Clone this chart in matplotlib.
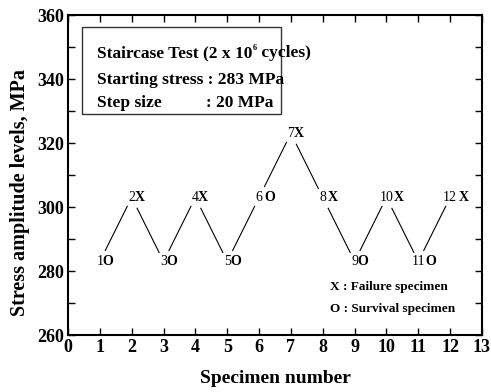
import matplotlib
matplotlib.use('Agg')
import matplotlib.pyplot as plt
from matplotlib.patches import Rectangle
from matplotlib.ticker import MultipleLocator

plt.rcParams['font.family'] = ['Liberation Serif', 'DejaVu Serif']

# data
specimen = [1, 2, 3, 4, 5, 6, 7, 8, 9, 10, 11, 12]
stress = [283, 303, 283, 303, 283, 303, 323, 303, 283, 303, 283, 303]
outcome = ['O', 'X', 'O', 'X', 'O', 'O', 'X', 'X', 'O', 'X', 'O', 'X']

fig = plt.figure(figsize=(4.91, 3.92), dpi=100)
ax = fig.add_axes([68 / 491, 57 / 392, 414 / 491, 320 / 392])
ax.set_xlim(0, 13)
ax.set_ylim(260, 360)

# shortened connecting lines between labels
for i in range(len(specimen) - 1):
    x0, y0 = specimen[i], stress[i]
    x1, y1 = specimen[i + 1], stress[i + 1]
    a, b = 0.17, 0.86
    ax.plot([x0 + a * (x1 - x0), x0 + b * (x1 - x0)],
            [y0 + a * (y1 - y0), y0 + b * (y1 - y0)],
            color='black', lw=0.8)

# point labels: number centred on the point, outcome letter to its right
for x, y, o in zip(specimen, stress, outcome):
    ax.text(x, y, str(x), ha='center', va='center', fontsize=10)
    off = 2.0 if x < 10 else 5.0
    if x in (6, 8, 12):
        off += 1.5
    ax.annotate(o, (x, y), xytext=(off, 0), textcoords='offset points',
                ha='left', va='center', fontsize=10, fontweight='bold')

# info box
ax.add_patch(Rectangle((0.44, 329.1), 6.26, 27.1, fill=False,
                       edgecolor='#333333', lw=1.0))
bfs = 12.5
t1 = ax.text(0.9, 348.1, 'Staircase Test (2 x 10', fontsize=bfs,
             fontweight='bold', va='center')
ax.text(0.9, 339.7, 'Starting stress : 283 MPa', fontsize=bfs,
        fontweight='bold', va='center')
ax.text(0.9, 332.5, 'Step size', fontsize=bfs, fontweight='bold', va='center')
ax.text(4.33, 332.5, ': 20 MPa', fontsize=bfs, fontweight='bold', va='center')

# tiny superscript, then rest of the first line
fig.canvas.draw()
r = fig.canvas.get_renderer()
bb = t1.get_window_extent(r)
xd = ax.transData.inverted().transform((bb.x1, 0))[0]
t2 = ax.annotate('6', (xd, 348.1), xytext=(0.3, 3.5),
                 textcoords='offset points', fontsize=6, fontweight='bold',
                 va='center', ha='left')
fig.canvas.draw()
bb2 = t2.get_window_extent(r)
xd2 = ax.transData.inverted().transform((bb2.x1, 0))[0]
ax.text(xd2, 348.1, ' cycles)', fontsize=bfs, fontweight='bold', va='center')

# legend text
ax.text(8.23, 275.0, 'X : Failure specimen', fontsize=9.5, fontweight='bold',
        va='center')
ax.text(8.23, 268.1, 'O : Survival specimen', fontsize=9.5, fontweight='bold',
        va='center')

ax.xaxis.set_major_locator(MultipleLocator(1))
ax.yaxis.set_major_locator(MultipleLocator(20))
ax.yaxis.set_minor_locator(MultipleLocator(10))
ax.tick_params(which='both', direction='in', top=True, right=True, width=1.0)
ax.tick_params(which='major', length=5, labelsize=13, pad=3)
ax.tick_params(which='minor', length=5)
for lab in ax.get_xticklabels() + ax.get_yticklabels():
    lab.set_fontweight('bold')
for sp in ax.spines.values():
    sp.set_linewidth(1.5)

ax.set_xlabel('Specimen number', fontsize=14, fontweight='bold', labelpad=10)
ax.set_ylabel('Stress amplitude levels, MPa', fontsize=14.5,
              fontweight='bold', va='center')
ax.yaxis.set_label_coords(-0.116, 0.444)

fig.savefig('out.png', dpi=100)
